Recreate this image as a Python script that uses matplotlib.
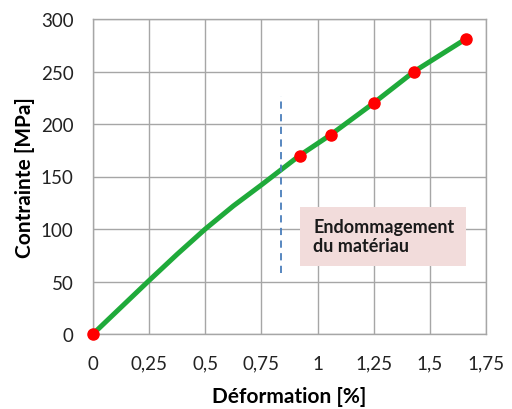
import matplotlib
matplotlib.use("Agg")
import matplotlib.pyplot as plt
from matplotlib.patches import Rectangle

# Data
curve_strain = [0, 0.25, 0.375, 0.5, 0.625, 0.75, 0.835, 0.92, 1.06, 1.25, 1.43, 1.66]
curve_stress = [0, 51, 76, 100, 122, 142, 156, 170, 190, 220, 250, 281]
pts_strain = [0, 0.92, 1.06, 1.25, 1.43, 1.66]
pts_stress = [0, 170, 190, 220, 250, 281]
xticks = [0, 0.25, 0.5, 0.75, 1, 1.25, 1.5, 1.75]
xtick_labels = ["0", "0,25", "0,5", "0,75", "1", "1,25", "1,5", "1,75"]
yticks = [0, 50, 100, 150, 200, 250, 300]
damage_x = 0.835
damage_y = [58, 227]
box_text = "Endommagement\ndu matériau"

plt.rcParams['font.family'] = ['Lato', 'DejaVu Sans']

fig = plt.figure(figsize=(5.12, 4.10), dpi=100)
ax = fig.add_axes([93/512, 75/410, (486-93)/512, (335-20)/410])

ax.set_xlim(0, 1.75)
ax.set_ylim(0, 300)
ax.set_xticks(xticks)
ax.set_xticklabels(xtick_labels)
ax.set_yticks(yticks)
ax.grid(True, color='#a6a6a6', linewidth=1.0)
ax.set_axisbelow(True)
for s in ax.spines.values():
    s.set_color('#a6a6a6')
    s.set_linewidth(1.0)
ax.tick_params(length=0, labelsize=13.5, colors='#222222')
ax.tick_params(axis='x', pad=15)
ax.tick_params(axis='y', pad=14)

ax.plot(curve_strain, curve_stress, color='#1faa3a', linewidth=3.6, solid_capstyle='round',
        solid_joinstyle='round', zorder=3)
ax.plot(pts_strain, pts_stress, 'o', color='#ff0000', markersize=8, zorder=4, clip_on=False)

ax.plot([damage_x, damage_x], damage_y, color='#4a7ebb', linestyle=(0, (4, 3)), linewidth=1.3, zorder=3)

ax.add_patch(Rectangle((0.92, 65), 1.66-0.92, 121-65, facecolor='#f2dcdb', edgecolor='none', zorder=2))
ax.text(0.98, 93, box_text, fontsize=13, fontweight='bold', color='#1a1a1a', va='center', ha='left',
        linespacing=1.15, zorder=5)

ax.set_xlabel('Déformation [%]', fontsize=15, fontweight='bold', labelpad=10)
ax.set_ylabel('Contrainte [MPa]', fontsize=15, fontweight='bold', labelpad=4)

fig.savefig('out.png', dpi=100)
